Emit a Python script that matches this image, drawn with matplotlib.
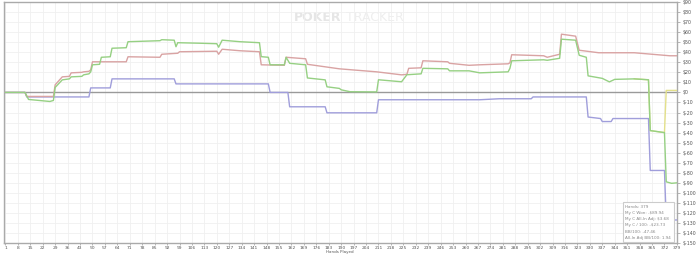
import matplotlib.pyplot as plt

# net won (green)
won_hands = [1, 12, 14, 26, 28, 29, 33, 37, 38, 44, 45, 48, 49, 50, 54, 55, 60, 61, 69, 70,
             88, 89, 96, 97, 98, 110, 120, 121, 123, 133, 144, 145, 149, 150, 158, 159, 161,
             170, 171, 181, 182, 189, 190, 195, 210, 211, 224, 227, 235, 236, 250, 251, 262,
             268, 284, 285, 286, 304, 306, 313, 314, 322, 324, 328, 329, 337, 341, 344, 355,
             363, 364, 372, 373, 376, 379]
won_vals = [0, 0, -7, -9, -8, 5, 12.5, 13.5, 15.5, 16, 17.5, 18.5, 20.5, 27.5, 28, 35, 35.5, 44,
            44.5, 50.5, 51.5, 52.5, 52, 45.5, 49.5, 49, 48.5, 45, 52, 50.5, 49.5, 35.6, 35,
            27.5, 27.5, 35, 29, 27.5, 14.4, 12.5, 5.6, 4, 2.6, 0.7, 0.5, 12.6, 10.6, 17.6,
            18.5, 24, 23.5, 21.5, 21.5, 19.5, 20.5, 24, 31.5, 32.5, 32, 34, 53, 52, 37, 35,
            16.5, 14, 10.5, 13, 13.5, 12.6, -38, -40, -89, -90.5, -90]

# non-showdown (red)
nsd_hands = [1, 12, 13, 28, 29, 33, 37, 38, 44, 45, 48, 49, 50, 69, 70, 88, 89, 98, 99, 120,
             121, 123, 133, 144, 145, 158, 159, 170, 171, 189, 210, 224, 227, 228, 235, 236,
             250, 251, 262, 268, 284, 285, 286, 304, 306, 313, 314, 322, 324, 335, 355, 375, 379]
nsd_vals = [0, 0, -4, -4, 7.6, 15.5, 16, 19.5, 20, 20.5, 21, 22.5, 30.5, 30.5, 35.5, 35, 38, 39,
            40.5, 41, 38, 43, 41.5, 40.5, 27.5, 27, 35, 33.5, 28, 23.5, 20.5, 17.5, 18, 24,
            24.5, 31.5, 30.5, 29, 27, 27.5, 28.5, 29.5, 37.5, 36.5, 35, 38, 58, 56, 42, 39.5,
            39.5, 36.5, 36.5]

# showdown (blue)
sd_hands = [1, 12, 13, 48, 49, 60, 61, 96, 97, 149, 150, 160, 161, 181, 182, 210, 211, 268,
            279, 297, 298, 328, 329, 336, 337, 342, 343, 363, 364, 372, 373, 379]
sd_vals = [0, 0, -4.5, -4.5, 4.5, 4.5, 13.5, 13.5, 8.5, 8.5, 0, 0, -14.3, -14.3, -20.3, -20.3,
           -7.3, -7.3, -6.3, -6.3, -4.5, -4.5, -24.5, -26, -29, -29, -26, -26, -77.7, -77.7,
           -127, -127]

# all-in adjusted (yellow), same as won line until the last all-ins
adj_hands = [355, 363, 364, 372, 373, 379]
adj_vals = [13.5, 12.6, -38, -40, 2, 2]

x_ticks = list(range(1, 380, 7))
y_ticks = list(range(-150, 91, 10))

stats = ["Hands: 379", "My C Won: -$89.94", "My C All-In Adj: $3.68",
         "My C / 100: -$23.73", "BB/100: -47.46", "All-In Adj BB/100: 1.94"]

fig = plt.figure(figsize=(7, 2.54), dpi=100)
ax = fig.add_axes([0.006, 0.043, 0.961, 0.949])

ax.plot(adj_hands, adj_vals, color='#e3e08a', lw=1.0, zorder=3)
ax.plot(sd_hands, sd_vals, color='#a09edb', lw=1.0, zorder=4)
ax.plot(nsd_hands, nsd_vals, color='#d9a3a3', lw=1.0, zorder=5)
ax.plot(won_hands, won_vals, color='#96d083', lw=1.0, zorder=6)
ax.axhline(0, color='#9a9a9a', lw=1.0, zorder=2)

ax.set_xlim(0.3, 379)
ax.set_ylim(-150, 90)
ax.set_xticks(x_ticks)
ax.set_xticklabels([str(t) for t in x_ticks], fontsize=3.2, color='#555555')
ax.set_yticks(y_ticks)
ax.set_yticklabels(['$' + str(t) for t in y_ticks], fontsize=3.4, color='#555555')
ax.yaxis.tick_right()
ax.tick_params(axis='y', length=2.5, width=0.5, color='#999999', pad=1.5)
ax.tick_params(axis='x', length=1.5, width=0.5, color='#999999', pad=0.6)
ax.grid(True, color='#f0f0f0', lw=0.6, zorder=0)
for s in ax.spines.values():
    s.set_color('#aaaaaa')
    s.set_linewidth(1.0)

fig.text(0.485, 0.0, 'Hands Played', fontsize=2.9, color='#555555', ha='center', va='bottom')

ax.text(0.43, 0.935, 'POKER', transform=ax.transAxes, fontsize=9, fontweight='bold',
        color='#e6e6e6', ha='left', va='center', zorder=1)
ax.text(0.508, 0.935, 'TRACKER', transform=ax.transAxes, fontsize=9,
        color='#eeeeee', ha='left', va='center', zorder=1)

ax.text(0.9235, 0.16, '\n'.join(stats), transform=ax.transAxes, fontsize=3.0,
        color='#888888', ha='left', va='top', linespacing=1.75, zorder=7,
        bbox=dict(boxstyle='square,pad=0.6', fc='white', ec='#cccccc', lw=0.8))

fig.savefig('out.png', dpi=100)
